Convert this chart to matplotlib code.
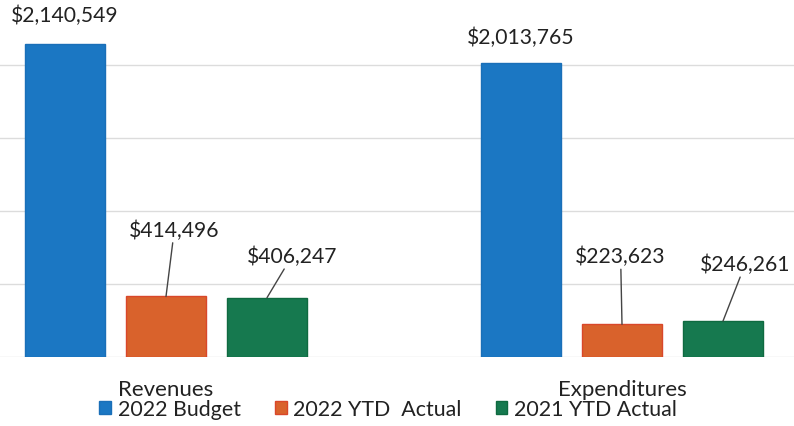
import matplotlib.pyplot as plt
import numpy as np

plt.rcParams['font.family'] = ['Lato', 'DejaVu Sans']

categories = ["Revenues", "Expenditures"]
series_names = ["2022 Budget", "2022 YTD  Actual", "2021 YTD Actual"]
budget_2022 = [2140549, 2013765]
ytd_2022 = [414496, 223623]
ytd_2021 = [406247, 246261]
colors = ["#1b77c3", "#d9622c", "#16794f"]
edges = ["#1a6fb8", "#d9472a", "#0f6a40"]

series = [budget_2022, ytd_2022, ytd_2021]

fig = plt.figure(figsize=(7.94, 4.27), dpi=100)
ax = fig.add_axes([0, 69 / 427, 1, 358 / 427])

x = np.arange(len(categories))
width = 0.175
offset = 0.2215

bars = []
for i, (vals, name) in enumerate(zip(series, series_names)):
    b = ax.bar(x + (i - 1) * offset, vals, width, color=colors[i],
               edgecolor=edges[i], linewidth=1, label=name, zorder=3)
    bars.append(b)

ax.set_xlim(-166 / 456, (794 - 166) / 456)
ax.set_ylim(0, 2452000)
ax.set_yticks([0, 500000, 1000000, 1500000, 2000000])
ax.yaxis.grid(True, color="#dcdcdc", linewidth=1)
ax.set_axisbelow(True)
ax.tick_params(axis='y', left=False, labelleft=False)
ax.tick_params(axis='x', length=0, pad=16, labelsize=16, colors="#222222")
ax.set_xticks(x)
ax.set_xticklabels(categories)
for s in ax.spines.values():
    s.set_visible(False)

fmt = lambda v: "${:,}".format(v)
lab_kw = dict(fontsize=15.2, color="#222222", ha="center", va="center")

# budget labels sit right above the bars
for rect, v, dy in zip(bars[0], budget_2022, [21, 19]):
    ax.annotate(fmt(v), (rect.get_x() + rect.get_width() / 2, v),
                xytext=(0, dy), textcoords="offset points", **lab_kw)

# small bars get labels with leader lines
offsets = [[(6, 48), (-1, 49)], [(18, 30), (16, 41)]]
for si, vals in enumerate([ytd_2022, ytd_2021]):
    for ci, v in enumerate(vals):
        rect = bars[si + 1][ci]
        ax.annotate(fmt(v), (rect.get_x() + rect.get_width() / 2, v),
                    xytext=offsets[si][ci], textcoords="offset points",
                    arrowprops=dict(arrowstyle="-", color="#444444", lw=1,
                                    shrinkA=0, shrinkB=0),
                    **lab_kw)

fig.legend(loc="center", bbox_to_anchor=(388 / 794, 1 - 410 / 427), ncol=3,
           frameon=False, fontsize=15.4, handlelength=0.55, handleheight=0.55,
           handletextpad=0.3, columnspacing=1.6, labelcolor="#222222",
           borderpad=0, borderaxespad=0)

fig.savefig("out.png", dpi=100)
